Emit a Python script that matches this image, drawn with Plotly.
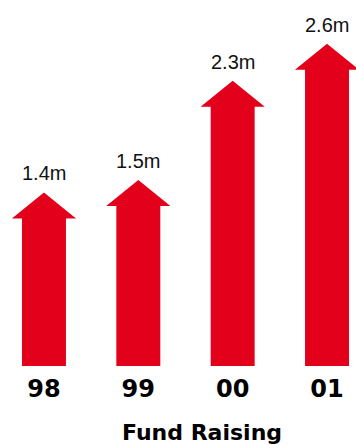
import plotly.graph_objects as go

categories = ["98", "99", "00", "01"]
values = [1.4, 1.5, 2.3, 2.6]
labels = ["1.4m", "1.5m", "2.3m", "2.6m"]
title_text = "Fund Raising"

RED = "#E2001A"
shaft_half = 0.233
head_half = 0.34
head_h = 0.21

fig = go.Figure()
for i, v in enumerate(values):
    xs = [i - shaft_half, i - shaft_half, i - head_half, i, i + head_half,
          i + shaft_half, i + shaft_half, i - shaft_half]
    ys = [0, v - head_h, v - head_h, v, v - head_h, v - head_h, 0, 0]
    fig.add_trace(go.Scatter(x=xs, y=ys, mode="lines", fill="toself",
                             fillcolor=RED, line=dict(width=0, color=RED),
                             hoverinfo="skip", showlegend=False))
    fig.add_annotation(x=i, y=v, text=labels[i], showarrow=False,
                       yanchor="middle", yshift=19,
                       font=dict(family="Liberation Sans, Arial", size=20, color="#111"))

fig.add_annotation(xref="paper", yref="paper", x=0.567, y=-0.183, text="<b>" + title_text + "</b>",
                   showarrow=False, yanchor="middle",
                   font=dict(family="DejaVu Sans", size=22, color="#000"))

fig.update_layout(
    width=356, height=445,
    margin=dict(l=0, r=0, t=0, b=79),
    paper_bgcolor="white", plot_bgcolor="white",
    xaxis=dict(range=[-0.466, 3.307], tickvals=list(range(len(categories))),
               ticktext=["<b>" + c + "</b>" for c in categories],
               showgrid=False, zeroline=False, showline=False,
               ticks="outside", ticklen=1, tickcolor="rgba(0,0,0,0)",
               tickfont=dict(family="DejaVu Sans", size=24, color="#000")),
    yaxis=dict(range=[0, 2.952], visible=False, showgrid=False, zeroline=False),
)

fig.write_html("out.html")
